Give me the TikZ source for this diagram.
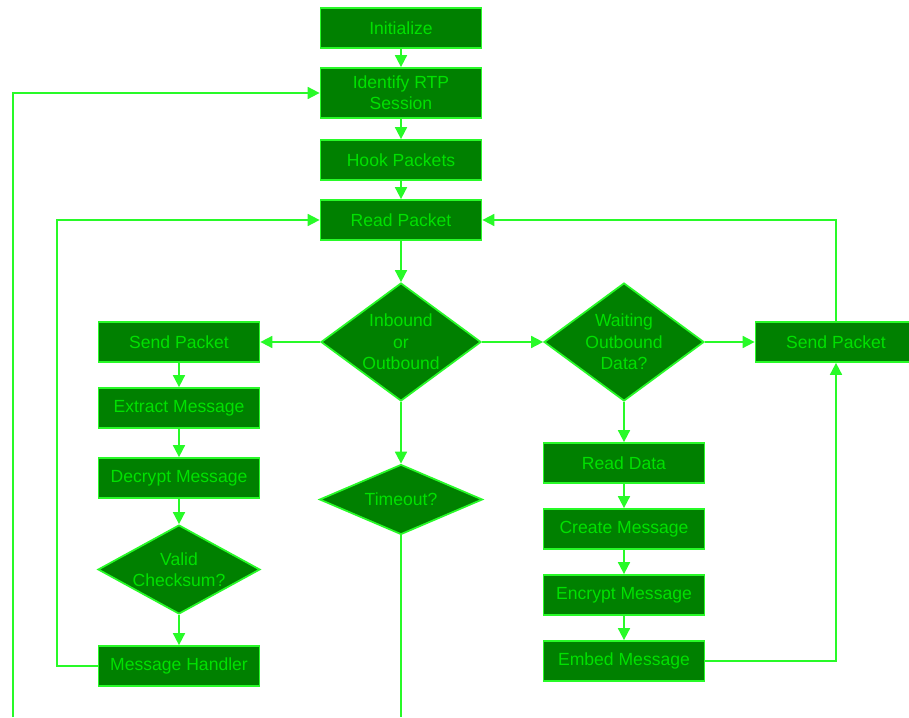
\documentclass[tikz,border=0pt]{standalone}
\usepackage{fontspec}
\setmainfont{Liberation Sans}
\usetikzlibrary{shapes.geometric,arrows.meta}
\definecolor{boxfill}{RGB}{0,128,0}
\definecolor{boxline}{RGB}{40,250,40}
\definecolor{boxtext}{RGB}{0,225,0}
\tikzset{
	box/.style={draw=boxline,fill=boxfill,text=boxtext,line width=0.035cm,inner sep=0,minimum width=3.22cm,minimum height=0.8cm,align=center,font=\fontsize{10}{12.2}\selectfont},
	dia/.style={box,diamond},
	link/.style={draw=boxline,line width=0.035cm,-{Triangle[width=0.24cm,length=0.24cm]}},
	wire/.style={draw=boxline,line width=0.035cm}
}

\begin{document}
\begin{tikzpicture}
	\useasboundingbox (0,0) rectangle (18.18,14.34);
	\node[box] (1) at (8.02,13.78) {Initialize};
	\node[box,minimum height=1cm] (2) at (8.02,12.48) {Identify RTP\\Session};
	\node[box] (3) at (8.02,11.14) {Hook Packets};
	\node[box] (4) at (8.02,9.94) {Read Packet};
	\node[dia,aspect=1.36,minimum width=3.2cm,minimum height=2.36cm] (5) at (8.02,7.5) {Inbound\\or\\Outbound};
	\node[dia,aspect=1.36,minimum width=3.2cm,minimum height=2.36cm] (6) at (12.48,7.5) {Waiting\\Outbound\\Data?};
	\node[box] (7) at (3.58,7.5) {Send Packet};
	\node[box] (8) at (16.72,7.5) {Send Packet};
	\node[box] (9) at (3.58,6.18) {Extract Message};
	\node[box] (10) at (3.58,4.78) {Decrypt Message};
	\node[dia,aspect=1.8,minimum width=3.24cm,minimum height=1.78cm] (11) at (3.58,2.95) {Valid\\Checksum?};
	\node[box] (12) at (3.58,1.02) {Message Handler};
	\node[dia,aspect=2.33,minimum width=3.26cm,minimum height=1.4cm] (13) at (8.02,4.35) {Timeout?};
	\node[box] (14) at (12.48,5.08) {Read Data};
	\node[box] (15) at (12.48,3.76) {Create Message};
	\node[box] (16) at (12.48,2.44) {Encrypt Message};
	\node[box] (17) at (12.48,1.12) {Embed Message};
	\coordinate (18) at (8.02,0);
	\coordinate (19) at (0.26,0);
	\draw[link] (1) -- (2);
	\draw[link] (2) -- (3);
	\draw[link] (3) -- (4);
	\draw[link] (4) -- (5);
	\draw[link] (5) -- (7);
	\draw[link] (5) -- (6);
	\draw[link] (5) -- (13);
	\draw[wire] (13) -- (18);
	\draw[link] (6) -- (8);
	\draw[link] (6) -- (14);
	\draw[link] (14) -- (15);
	\draw[link] (15) -- (16);
	\draw[link] (16) -- (17);
	\draw[link] (17) -| (8);
	\draw[link] (8) |- (4);
	\draw[link] (7) -- (9);
	\draw[link] (9) -- (10);
	\draw[link] (10) -- (11);
	\draw[link] (11) -- (12);
	\draw[link] (12.west) -- ++(-0.81,0) |- (4);
	\draw[link] (19) |- (2);
\end{tikzpicture}
\end{document}
